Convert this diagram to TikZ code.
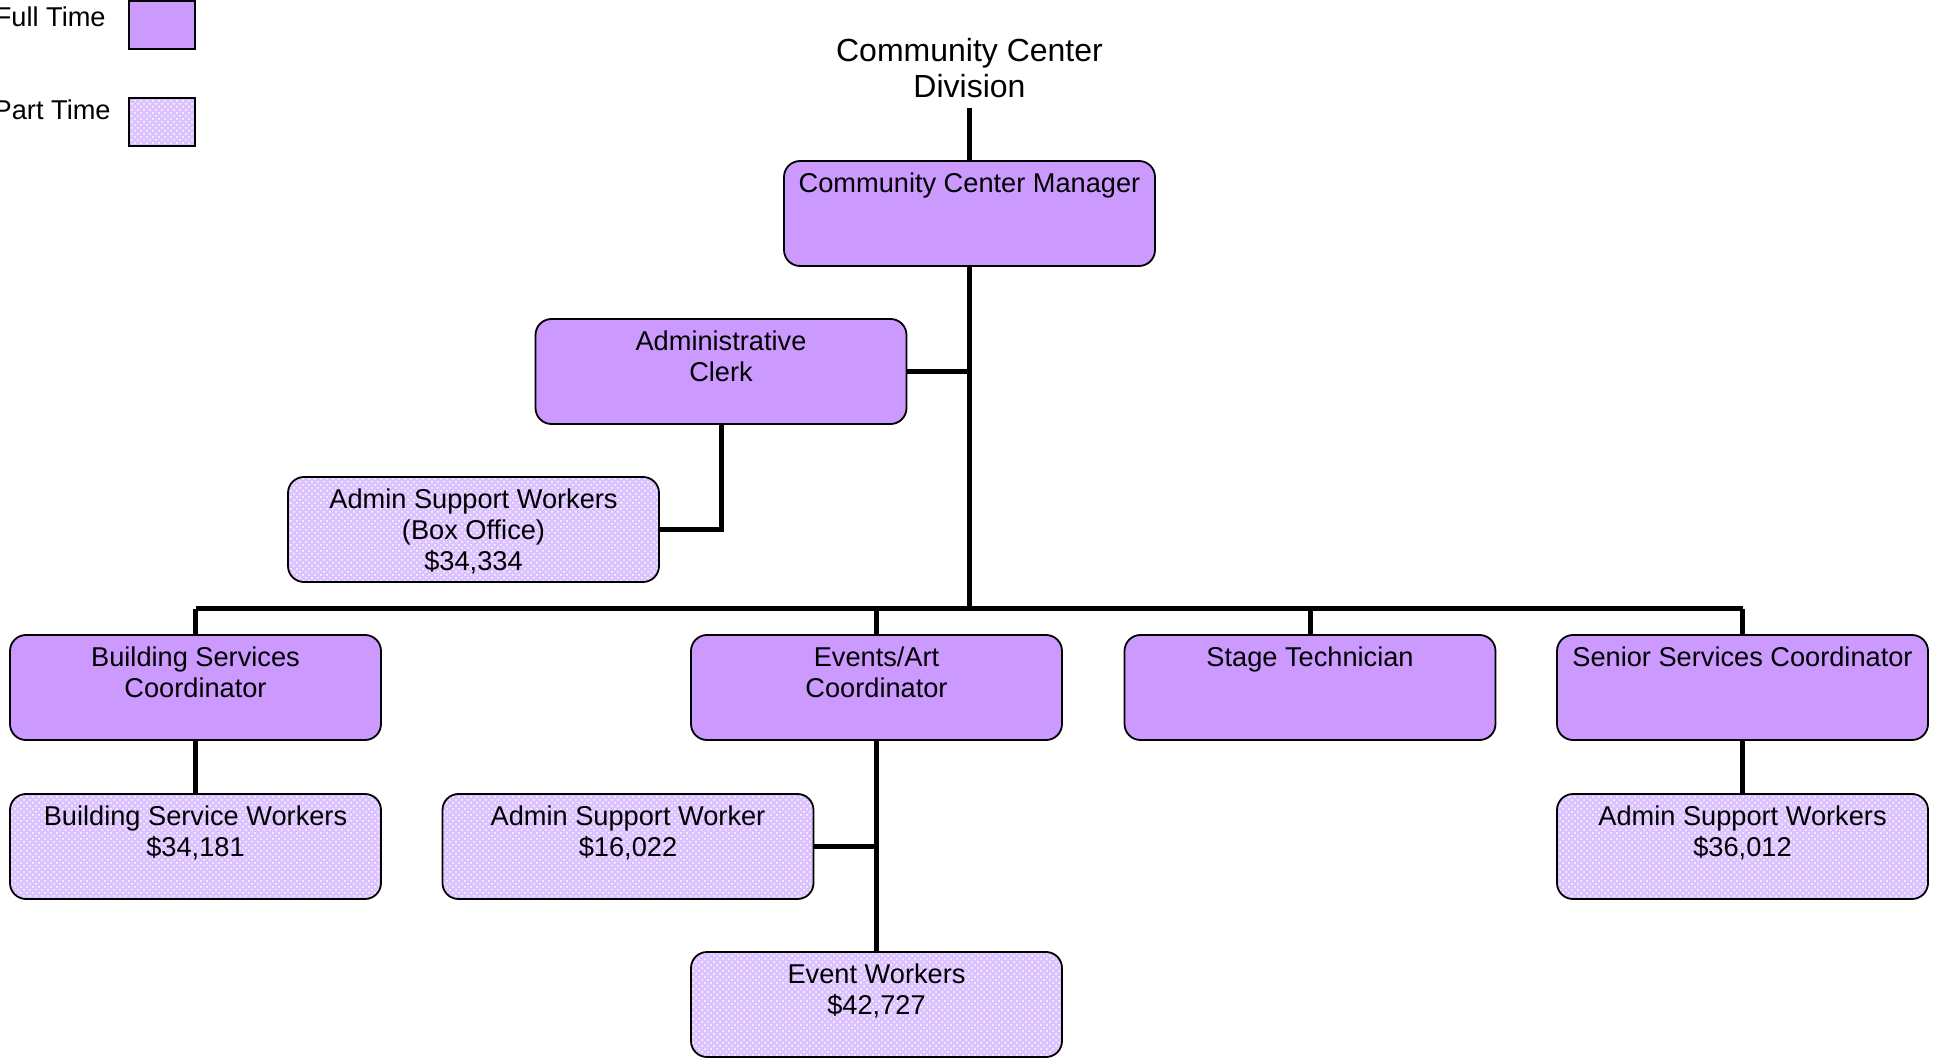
\documentclass[tikz,border=0pt]{standalone}
\usepackage{fontspec}
\setmainfont{Liberation Sans}
\usetikzlibrary{patterns}
\definecolor{ftfill}{HTML}{CC99FF}
\definecolor{ptfill}{HTML}{DCC2FF}

\begin{document}
\begin{tikzpicture}[x=0.5pt,y=-0.5pt,
  box/.style={draw=black, line width=0.9pt, rounded corners=8pt,
    minimum width=185.5pt, minimum height=52.5pt, inner sep=0pt},
  full/.style={box, fill=ftfill},
  dotted fill/.style={preaction={fill=ptfill}, pattern=crosshatch dots, pattern color=white},
  part/.style={box, dotted fill},
  lbl/.style={anchor=north, align=center, inner sep=0pt,
    font=\fontsize{13.6}{15.5}\selectfont},
  legbox/.style={draw=black, line width=1.3pt, minimum width=33pt, minimum height=24pt, inner sep=0pt},
  legtxt/.style={anchor=east, inner sep=0pt, font=\fontsize{13.6}{15.5}\selectfont},
  link/.style={line width=2.5pt}
]
\useasboundingbox (0,0) rectangle (1938,1058);
\clip (0,0) rectangle (1938,1058);

% legend
\node[legtxt] (ftl) at (106,17) {Full Time};
\node[legbox, fill=ftfill] (ftb) at (162,25) {};
\node[legtxt] (ptl) at (111,110) {Part Time};
\node[legbox, dotted fill] (ptb) at (162,122) {};

% division title
\node[align=center, inner sep=0pt, font=\fontsize{16}{18}\selectfont] (title) at (969.5,68) {Community Center\\Division};
\coordinate (titlefoot) at (969.5,108);

% boxes
\node[full] (mgr) at (969.5,213.5) {};
\node[full] (clerk) at (721,371.5) {};
\node[part] (boxoff) at (473.5,529.5) {};
\node[full] (bsc) at (195.5,687.5) {};
\node[full] (eac) at (876.5,687.5) {};
\node[full] (stage) at (1310,687.5) {};
\node[full] (ssc) at (1742.5,687.5) {};
\node[part] (bsw) at (195.5,846.5) {};
\node[part] (asw) at (628,846.5) {};
\node[part] (ssw) at (1742.5,846.5) {};
\node[part] (evw) at (876.5,1004.5) {};

% box texts
\node[lbl] at ([yshift=-6pt]mgr.north) {Community Center Manager};
\node[lbl] at ([yshift=-6pt]clerk.north) {Administrative\\Clerk};
\node[lbl] at ([yshift=-6pt]boxoff.north) {Admin Support Workers\\(Box Office)\\\$34,334};
\node[lbl] at ([yshift=-6pt]bsc.north) {Building Services\\Coordinator};
\node[lbl] at ([yshift=-6pt]eac.north) {Events/Art\\Coordinator};
\node[lbl] at ([yshift=-6pt]stage.north) {Stage Technician};
\node[lbl] at ([yshift=-6pt]ssc.north) {Senior Services Coordinator};
\node[lbl] at ([yshift=-6pt]bsw.north) {Building Service Workers\\\$34,181};
\node[lbl] at ([yshift=-6pt]asw.north) {Admin Support Worker\\\$16,022};
\node[lbl] at ([yshift=-6pt]ssw.north) {Admin Support Workers\\\$36,012};
\node[lbl] at ([yshift=-6pt]evw.north) {Event Workers\\\$42,727};

% connectors
\coordinate (bus) at (969.5,609);
\draw[link] (titlefoot) -- (mgr.north);
\draw[link] (mgr.south) -- (bus);
\draw[link] (clerk.east) -- (clerk.east -| bus);
\draw[link] (clerk.south) |- (boxoff.east);
\draw[link] (bus -| bsc.north) -- (bus -| ssc.north);
\draw[link] (bus -| bsc.north) -- (bsc.north);
\draw[link] (bus -| eac.north) -- (eac.north);
\draw[link] (bus -| stage.north) -- (stage.north);
\draw[link] (bus -| ssc.north) -- (ssc.north);
\draw[link] (bsc.south) -- (bsw.north);
\draw[link] (ssc.south) -- (ssw.north);
\draw[link] (eac.south) -- (evw.north);
\draw[link] (asw.east) -- (asw.east -| eac.south);
\end{tikzpicture}
\end{document}
